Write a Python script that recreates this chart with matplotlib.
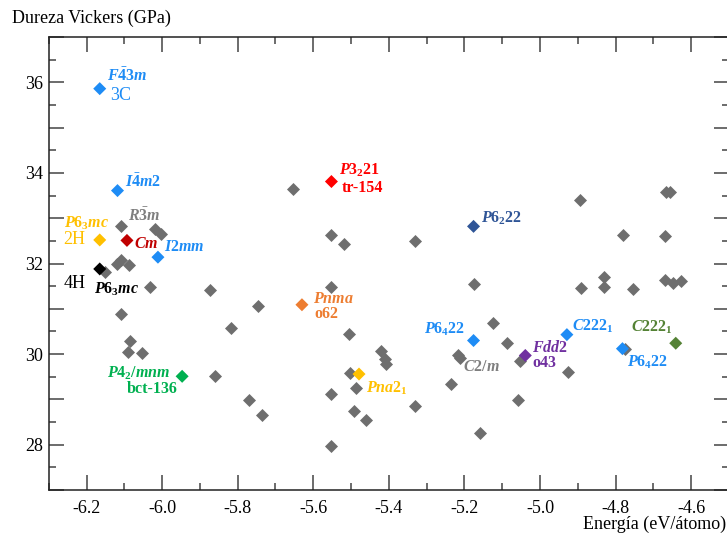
import numpy as np
import matplotlib.pyplot as plt
from matplotlib.ticker import MultipleLocator, FuncFormatter

plt.rcParams['font.family'] = ['Liberation Serif', 'DejaVu Serif']
plt.rcParams['axes.unicode_minus'] = False
plt.rcParams['mathtext.fontset'] = 'custom'
plt.rcParams['mathtext.rm'] = 'Liberation Serif:bold'
plt.rcParams['mathtext.it'] = 'Liberation Serif:italic:bold'
plt.rcParams['mathtext.bf'] = 'Liberation Serif:bold'

# estructuras sin etiqueta (gris)
gris_x = [-6.110, -6.020, -6.004, -6.150, -6.119, -6.108, -6.088, -6.033, -5.872,
          -6.110, -6.086, -6.090, -6.052, -5.861, -5.819, -5.654, -5.552, -5.519,
          -5.331, -5.552, -5.176, -5.746, -5.506, -5.217, -5.212, -5.422, -5.411,
          -5.407, -5.502, -5.486, -5.552, -5.235, -5.771, -5.737, -5.491, -5.461,
          -5.330, -5.552, -5.158, -4.893, -4.666, -4.655, -4.781, -4.670, -4.891,
          -4.831, -4.831, -4.754, -4.670, -4.648, -4.626, -5.125, -5.087, -5.052,
          -4.925, -5.058, -4.776]
gris_y = [32.82, 32.77, 32.66, 31.81, 31.99, 32.07, 31.96, 31.48, 31.42,
          30.89, 30.28, 30.04, 30.03, 29.51, 30.58, 33.65, 32.64, 32.44,
          32.49, 31.48, 31.55, 31.07, 30.45, 29.99, 29.91, 30.06, 29.89,
          29.78, 29.58, 29.25, 29.13, 29.34, 28.99, 28.66, 28.74, 28.55,
          28.86, 27.98, 28.26, 33.41, 33.58, 33.58, 32.62, 32.60, 31.46,
          31.71, 31.49, 31.44, 31.64, 31.57, 31.61, 30.69, 30.25, 29.84,
          29.60, 28.99, 30.12]

# estructuras destacadas
nombres = [r'$F\bar{4}3m$', r'$I\bar{4}m2$', r'$P6_3mc$', r'$Cm$', r'$I2mm$',
           r'$P6_3mc$', r'$P4_2/mnm$', r'$P3_221$', r'$Pnma$', r'$Pna2_1$',
           r'$P6_422$', r'$P6_222$', r'$Fdd2$', r'$C222_1$', r'$C222_1$', r'$P6_422$']
nombres2 = ['3C', '', '2H', '', '', '4H', 'bct-136', 'tr-154', 'o62', '',
            '', '', 'o43', '', '', '']
energia = [-6.165, -6.118, -6.165, -6.093, -6.011, -6.165, -5.947, -5.552, -5.630,
           -5.479, -5.176, -5.176, -5.039, -4.929, -4.641, -4.782]
dureza = [35.86, 33.61, 32.52, 32.51, 32.14, 31.88, 29.51, 33.81, 31.09,
          29.56, 30.30, 32.82, 29.97, 30.43, 30.24, 30.12]
colores = ['#1e8cf5', '#1e8cf5', '#ffc000', '#c00000', '#1e8cf5', '#000000',
           '#00b050', '#ff0000', '#ed7d31', '#ffc000', '#1e8cf5', '#2f5597',
           '#7030a0', '#1e8cf5', '#548235', '#1e8cf5']

# posicion de las etiquetas (pixeles respecto al punto)
pos1 = [(7, 13, 'left'), (8, 8, 'left'), (-36, 17, 'left'), (7, -4, 'left'),
        (6, 10, 'left'), (-6, -20, 'left'), (-12, 3, 'right'), (8, 11, 'left'),
        (11, 6, 'left'), (7, -14, 'left'), (-8, 11, 'right'), (7, 8, 'left'),
        (7, 7, 'left'), (5, 8, 'left'), (-3, 16, 'right'), (5, -14, 'left')]
pos2 = [(10, -7, 'left'), None, (-36, 0, 'left'), None, None, (-36, -15, 'left'),
        (-5, -13, 'right'), (10, -6, 'left'), (12, -9, 'left'), None,
        None, None, (7, -8, 'left'), None, None, None]

fig = plt.figure(figsize=(7.27, 5.35), dpi=100)
ax = fig.add_axes([0.067, 0.0841, 0.9358, 0.8467])

gris = '#6e6e6e'
ax.scatter(gris_x, gris_y, marker='D', s=44, color=gris, linewidths=0, zorder=2)
ax.scatter(energia, dureza, marker='D', s=44, c=colores, linewidths=0, zorder=3)

# R-3m y C2/m van en gris
ax.annotate(r'$R\bar{3}m$', (-6.110, 32.82), xytext=(7, 10), textcoords='offset pixels',
            color='#7f7f7f', fontsize=11.5, ha='left', va='center')
ax.annotate(r'$C2/m$', (-5.215, 29.95), xytext=(4, -11), textcoords='offset pixels',
            color='#7f7f7f', fontsize=11.5, ha='left', va='center')

for i in range(len(nombres)):
    dx, dy, ha = pos1[i]
    ax.annotate(nombres[i], (energia[i], dureza[i]), xytext=(dx, dy),
                textcoords='offset pixels', color=colores[i], fontsize=11.5,
                ha=ha, va='center', zorder=4)
    if pos2[i] is not None:
        dx, dy, ha = pos2[i]
        grueso = 'normal' if nombres2[i] in ('3C', '2H', '4H') else 'bold'
        tam = 13 if grueso == 'normal' else 11.5
        ax.annotate(nombres2[i], (energia[i], dureza[i]), xytext=(dx, dy),
                    textcoords='offset pixels', color=colores[i], fontsize=tam,
                    fontweight=grueso, ha=ha, va='center', zorder=4)

ax.set_xlim(-6.3, -4.5)
ax.set_ylim(27, 37)
ax.xaxis.set_major_locator(MultipleLocator(0.2))
ax.xaxis.set_minor_locator(MultipleLocator(0.1))
ax.yaxis.set_major_locator(MultipleLocator(1))
ax.yaxis.set_minor_locator(MultipleLocator(0.5))
ax.xaxis.set_major_formatter(FuncFormatter(lambda v, p: f'{v:.1f}'))
ax.yaxis.set_major_formatter(FuncFormatter(lambda v, p: f'{v:.0f}' if round(v) % 2 == 0 else ''))

ax.tick_params(which='both', direction='in', top=True, right=True, color='#444444',
               width=1.1, labelsize=13)
ax.tick_params(which='major', length=10.5)
ax.tick_params(which='minor', length=5)
ax.tick_params(axis='x', pad=7)
ax.tick_params(axis='y', pad=4)
for s in ax.spines.values():
    s.set_linewidth(1.1)
    s.set_color('#222222')

fig.text(0.016, 0.966, 'Dureza Vickers (GPa)', fontsize=13, ha='left', va='center')
fig.text(0.999, 0.019, 'Energía (eV/átomo)', fontsize=13, ha='right', va='center')

fig.savefig('out.png', dpi=100)
